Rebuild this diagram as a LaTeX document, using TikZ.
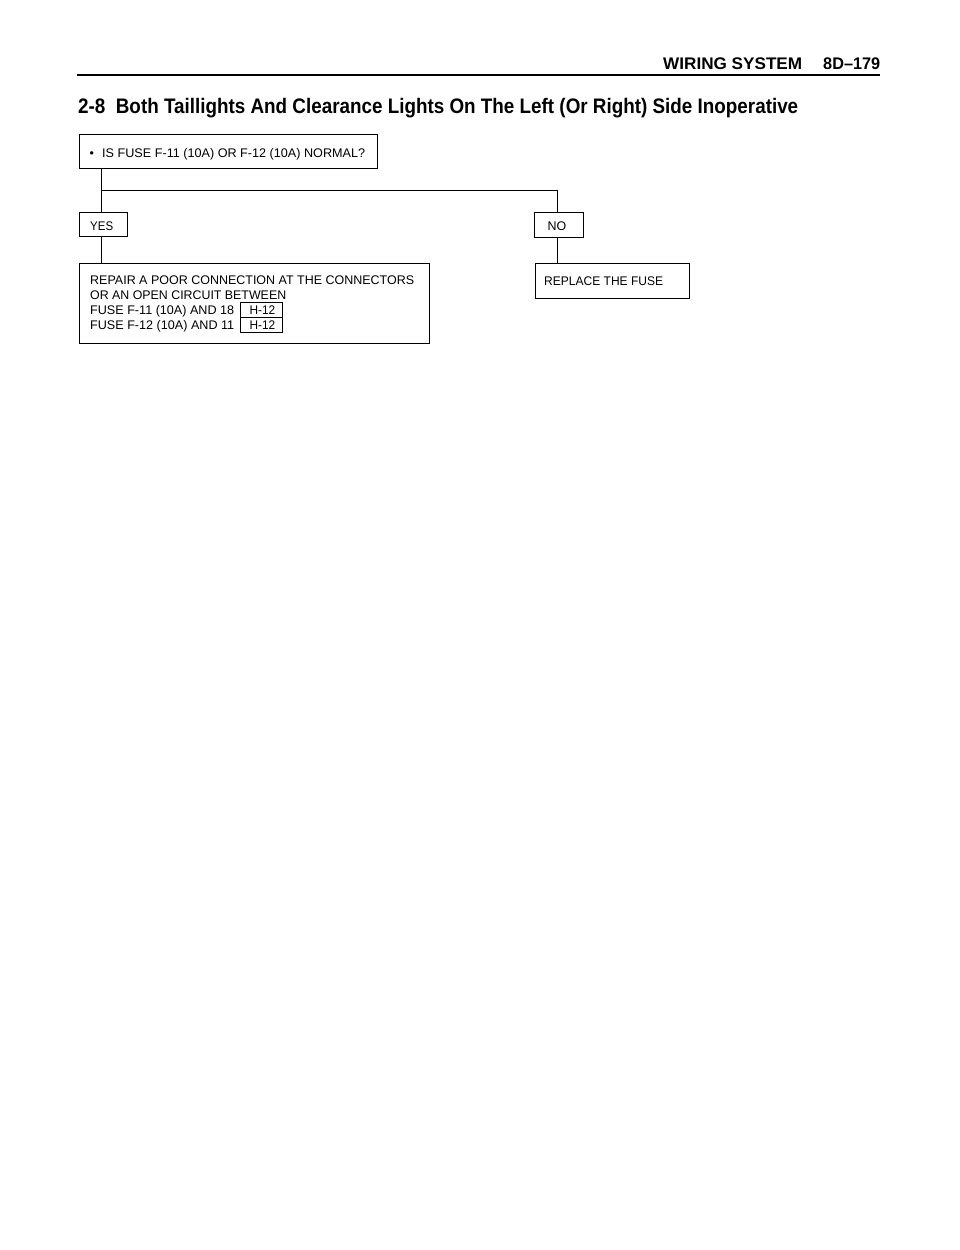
\documentclass[tikz,border=0pt]{standalone}
\usepackage{fontspec}
\setmainfont{Liberation Sans}
\usepackage{graphicx}
\newsavebox\fitbox
\newlength\fitlen
\newcommand\fitx[2]{\sbox\fitbox{#2}\setlength\fitlen{\wd\fitbox}\pgfmathsetmacro\fitsx{#1/\fitlen}\scalebox{\fitsx}[1]{\usebox\fitbox}}
\begin{document}
\begin{tikzpicture}[x=1pt,y=-1pt,
  box/.style={draw, line width=0.9pt, inner sep=0pt, anchor=north west},
  txt/.style={anchor=base west, inner sep=0pt, font=\fontsize{12.5}{15}\selectfont},
  hdr/.style={anchor=base west, inner sep=0pt, font=\bfseries\fontsize{16.8}{20}\selectfont},
  ttl/.style={anchor=base west, inner sep=0pt, font=\bfseries\fontsize{21}{25}\selectfont},
  wire/.style={line width=0.9pt}]
\useasboundingbox (0,0) rectangle (960,1250);
\fill[white] (0,0) rectangle (960,1250);
% header
\node[hdr] (hdr1) at (663,69) {\fitx{139}{WIRING SYSTEM}};
\node[hdr] (hdr2) at (823,69) {\fitx{57}{8D–179}};
\coordinate (rl) at (77,75);
\coordinate (rr) at (880,75);
\draw[line width=2.2pt] (rl) -- (rr);
% title
\node[ttl] (title) at (78,113) {\fitx{720}{2-8\ \ Both Taillights And Clearance Lights On The Left (Or Right) Side Inoperative}};
% boxes
\node[box, minimum width=298pt, minimum height=34pt] (q) at (78.5,133.5) {};
\node[box, minimum width=48pt, minimum height=24.5pt] (yes) at (78.5,211.5) {};
\node[box, minimum width=49pt, minimum height=25pt] (no) at (534,211.5) {};
\node[box, minimum width=350pt, minimum height=80pt] (repair) at (78.5,263) {};
\node[box, minimum width=154pt, minimum height=34.5pt] (replace) at (535,263) {};
\node[box, minimum width=42pt, minimum height=14.4pt] (h1) at (240,302.3) {};
\node[box, minimum width=42pt, minimum height=15pt] (h2) at (240,316.7) {};
% texts
\node[txt] (qb) at (89.5,157) {•};
\node[txt] (qt) at (102,157) {\fitx{263}{IS FUSE F-11 (10A) OR F-12 (10A) NORMAL?}};
\node[txt] (yt) at (90,230) {\fitx{23}{YES}};
\node[txt] (nt) at (547.3,230.5) {\fitx{18.7}{NO}};
\node[txt] (r1) at (90,284) {\fitx{324}{REPAIR A POOR CONNECTION AT THE CONNECTORS}};
\node[txt] (r2) at (90,299) {\fitx{196}{OR AN OPEN CIRCUIT BETWEEN}};
\node[txt] (r3) at (90,314) {\fitx{144}{FUSE F-11 (10A) AND 18}};
\node[txt] (r4) at (90,329.3) {\fitx{144}{FUSE F-12 (10A) AND 11}};
\node[txt] (h1t) at (249.3,314) {\fitx{25.7}{H-12}};
\node[txt] (h2t) at (249.3,329.3) {\fitx{25.7}{H-12}};
\node[txt] (rpt) at (544,285) {\fitx{119}{REPLACE THE FUSE}};
% connectors
\coordinate (br) at (101.7,190);
\draw[wire] (q.south -| br) -- (br |- yes.north);
\draw[wire] (br) -| ([xshift=-1.8pt]no.north);
\draw[wire] (br |- yes.south) -- (br |- repair.north);
\draw[wire] ([xshift=-1.8pt]no.south) -- ([xshift=-1.8pt]no.south |- replace.north);
\end{tikzpicture}
\end{document}
